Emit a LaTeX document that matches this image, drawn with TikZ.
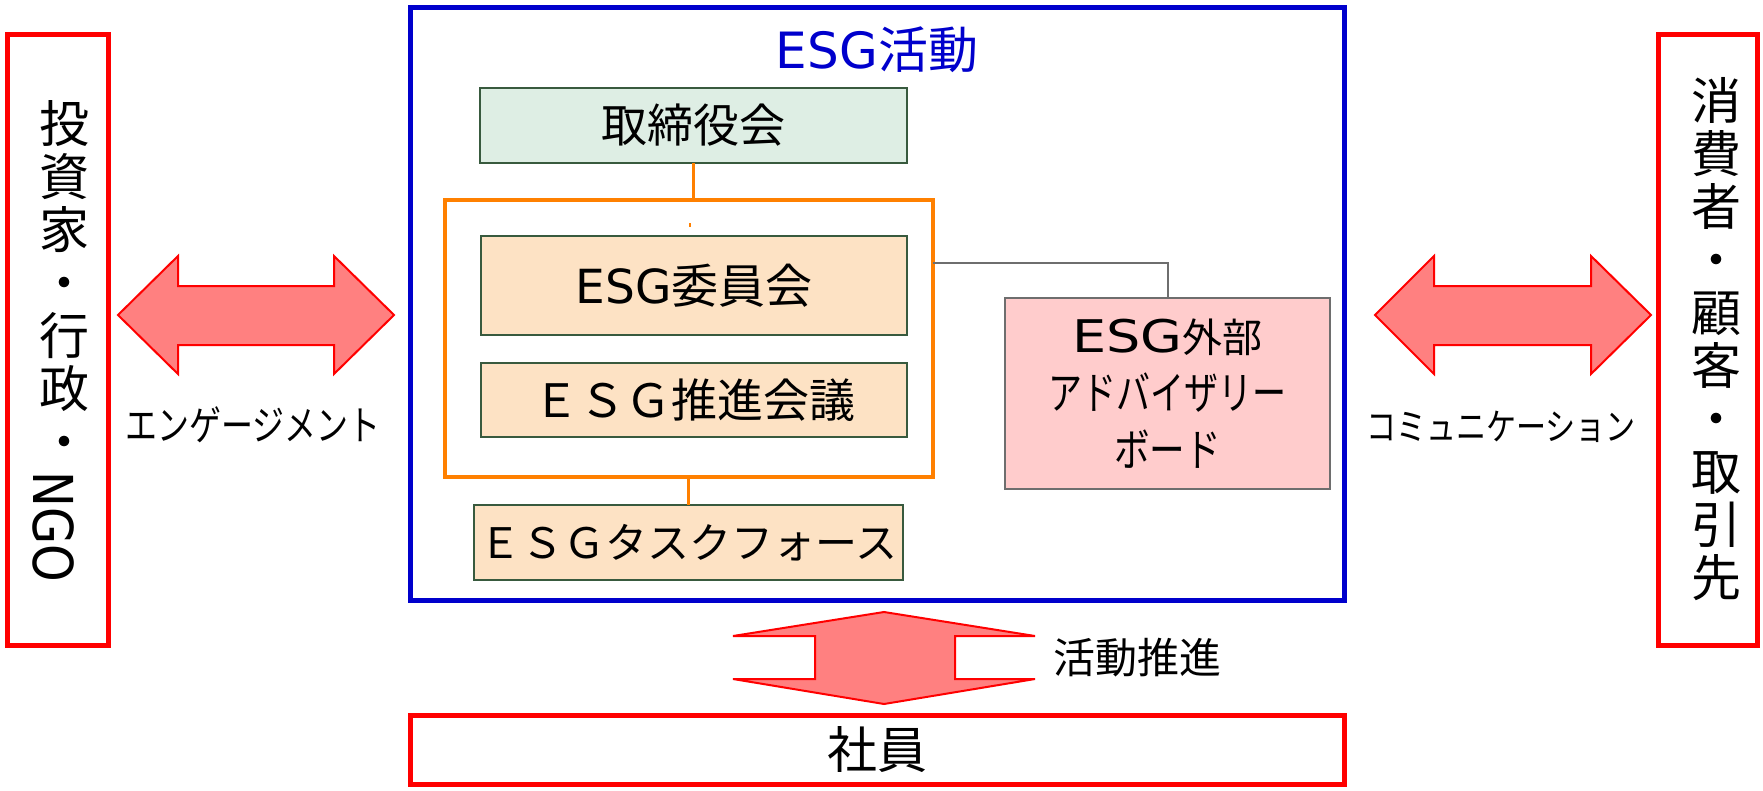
\documentclass[tikz,border=0pt]{standalone}
\usepackage{fontspec}
\usepackage{graphicx}
\setmainfont{DejaVu Sans}
\newfontfamily\cjk{Noto Sans CJK JP}
\definecolor{myred}{RGB}{255,0,0}
\definecolor{myblue}{RGB}{0,0,204}
\definecolor{greenfill}{RGB}{222,238,228}
\definecolor{darkgreen}{RGB}{56,90,62}
\definecolor{peach}{RGB}{253,226,196}
\definecolor{myorange}{RGB}{255,128,0}
\definecolor{advfill}{RGB}{255,204,204}
\definecolor{advdraw}{RGB}{110,110,110}
\definecolor{arrowfill}{RGB}{255,128,128}
\begin{document}
\begin{tikzpicture}[x=1pt,y=-1pt,
  every node/.style={inner sep=0pt, outer sep=0pt},
  redbox/.style={rectangle, draw=myred, line width=5pt},
  bluebox/.style={rectangle, draw=myblue, line width=5pt},
  greenbox/.style={rectangle, fill=greenfill, draw=darkgreen, line width=2pt},
  peachbox/.style={rectangle, fill=peach, draw=darkgreen, line width=2pt},
  orangebox/.style={rectangle, draw=myorange, line width=3.5pt},
  advbox/.style={rectangle, fill=advfill, draw=advdraw, line width=2pt},
  vtext/.style={align=center, font=\cjk\fontsize{50}{53}\selectfont},
  orangeline/.style={draw=myorange, line width=3pt},
  grayline/.style={draw=advdraw, line width=2pt},
  blockarrow/.style={fill=arrowfill, draw=myred, line width=2pt, line join=miter}
]
\useasboundingbox (0,0) rectangle (1763,790);

% side boxes
\node[redbox, minimum width=100.5pt, minimum height=611.5pt] (left) at (57.75,339.75) {};
\node[vtext] (lefttxt) at (64.5,280.5) {投\\資\\家\\・\\行\\政\\・};
\node[rotate=-90, font=\fontsize{55}{60}\selectfont] (ngo) at (54,527) {\scalebox{0.87}[1]{NGO}};

\node[redbox, minimum width=99pt, minimum height=611.5pt] (right) at (1708,339.75) {};
\node[vtext] (righttxt) at (1716,339.5) {消\\費\\者\\・\\顧\\客\\・\\取\\引\\先};

% ESG activity frame
\node[bluebox, minimum width=934pt, minimum height=593pt] (esg) at (877.5,304) {};
\node[font=\fontsize{50}{60}\selectfont, text=myblue] (title) at (877,50) {ESG{\cjk 活動}};

\node[orangebox, minimum width=488pt, minimum height=277pt] (orange) at (689,338.5) {};
\node[greenbox, minimum width=427pt, minimum height=75pt, font=\cjk\fontsize{46}{50}\selectfont] (board) at (693.5,125.5) {取締役会};
\node[peachbox, minimum width=426pt, minimum height=99pt, font=\fontsize{47}{50}\selectfont] (comm) at (694,285.5) {ESG{\cjk 委員会}};
\node[peachbox, minimum width=426pt, minimum height=74pt, font=\cjk\fontsize{46}{50}\selectfont] (prom) at (694,400) {ＥＳＧ推進会議};
\node[peachbox, minimum width=429pt, minimum height=75pt, font=\cjk\fontsize{42}{50}\selectfont] (task) at (688.5,542.5) {ＥＳＧタスクフォース};
\node[advbox, minimum width=325pt, minimum height=191pt, align=center, font=\fontsize{40}{57}\selectfont] (adv) at (1167.5,393.5)
  {\scalebox{1.2}[1]{\fontsize{45}{57}\selectfont ESG}{\cjk 外部}\\\scalebox{0.85}[1.12]{\cjk アドバイザリー}\\\scalebox{0.89}[1.12]{\cjk ボード}};

% connectors
\draw[orangeline] (board.south) -- (board.south |- orange.north);
\draw[orangeline] (task.north) -- (task.north |- orange.south);
\draw[myorange, line width=1.5pt] (690,223) -- (690,227);
\coordinate (g) at (1167.5,263);
\draw[grayline] (orange.east |- g) -- (g) -- (adv.north);

% employees
\node[redbox, minimum width=934pt, minimum height=69pt, font=\cjk\fontsize{50}{50}\selectfont] (emp) at (877.5,750) {社員};

% block arrows
\draw[blockarrow] (118,315) -- (178,256) -- (178,286) -- (334,286) -- (334,256) -- (394,315)
  -- (334,374) -- (334,345) -- (178,345) -- (178,374) -- cycle;
\draw[blockarrow] (1375,315) -- (1434,256) -- (1434,286) -- (1591,286) -- (1591,256) -- (1651,315)
  -- (1591,374) -- (1591,345) -- (1434,345) -- (1434,374) -- cycle;
\draw[blockarrow] (884,612) -- (1035,636) -- (955,636) -- (955,679) -- (1035,679) -- (884,704)
  -- (733,679) -- (815,679) -- (815,636) -- (733,636) -- cycle;

% labels
\node[font=\cjk\fontsize{34}{40}\selectfont] (eng) at (253,425) {\scalebox{0.94}[1.2]{エンゲージメント}};
\node[font=\cjk\fontsize{31}{40}\selectfont] (com) at (1501,427) {\scalebox{0.97}[1.2]{コミュニケーション}};
\node[font=\cjk\fontsize{42}{50}\selectfont] (act) at (1137,658) {活動推進};
\end{tikzpicture}
\end{document}
